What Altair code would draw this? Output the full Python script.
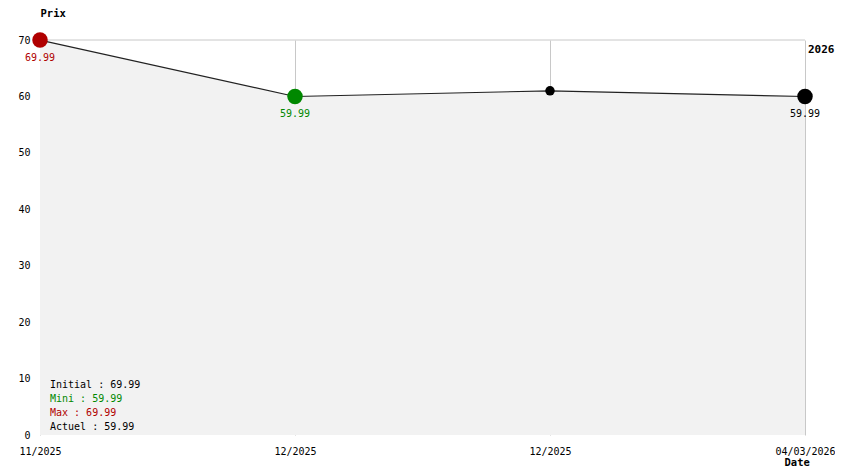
import altair as alt
import pandas as pd

# ---- data ----
dates = ["11/2025", "12/2025", "12/2025", "04/03/2026"]
prices = [69.99, 59.99, 60.99, 59.99]
point_colors = ["#b00000", "#008800", "#000000", "#000000"]
point_sizes = [240, 240, 90, 240]
value_labels = ["69.99", "59.99", "", "59.99"]

legend_lines = ["Initial : 69.99", "Mini : 59.99", "Max : 69.99", "Actuel : 59.99"]
legend_colors = ["#000000", "#008800", "#b00000", "#000000"]
year_label = "2026"

FONT = "DejaVu Sans Mono"

df = pd.DataFrame({
    "i": list(range(len(dates))),
    "date": dates,
    "price": prices,
    "pcolor": point_colors,
    "psize": point_sizes,
    "vlabel": value_labels,
})
leg = pd.DataFrame({
    "row": list(range(len(legend_lines))),
    "txt": legend_lines,
    "col": legend_colors,
})
yr = pd.DataFrame({"i": [len(dates) - 1], "price": [70], "txt": [year_label]})

label_expr = "[" + ",".join("'%s'" % d for d in dates) + "][datum.value]"

xs = alt.Scale(domain=[0, len(dates) - 1], nice=False, zero=False, padding=0)
ys = alt.Scale(domain=[0, 70], nice=False, zero=True)

x_enc = alt.X("i:Q", scale=xs, axis=alt.Axis(
    values=list(range(len(dates))), labelExpr=label_expr, grid=True,
    gridColor="#c8c8c8", gridWidth=1, domain=False, ticks=False,
    labelFont=FONT, labelFontSize=10, labelColor="#000", labelPadding=11,
    labelBound=False, labelFlush=False, labelOverlap=False,
    title="Date", titleFont=FONT, titleFontSize=10.5, titleFontWeight="bold",
    titleAlign="left", titleBaseline="middle", titleX=744, titleY=27,
    titleColor="#000"))
y_enc = alt.Y("price:Q", scale=ys, axis=alt.Axis(
    values=list(range(0, 71, 10)), grid=False, domain=False, ticks=False,
    labelFont=FONT, labelFontSize=10, labelColor="#000", labelPadding=10,
    title="Prix", titleFont=FONT, titleFontSize=10.5, titleFontWeight="bold",
    titleAngle=0, titleAlign="left", titleBaseline="middle", titleX=0,
    titleY=-27, titleColor="#000"))

base = alt.Chart(df)

top_rule = alt.Chart(pd.DataFrame({"v": [70]})).mark_rule(
    color="#c8c8c8", strokeWidth=1).encode(y=alt.Y("v:Q", scale=ys))

area = base.mark_area(color="#f2f2f2", opacity=1).encode(x=x_enc, y=y_enc)
line = base.mark_line(color="#222222", strokeWidth=1.2).encode(x="i:Q", y="price:Q")
pts = base.mark_circle(opacity=1).encode(
    x="i:Q", y="price:Q",
    color=alt.Color("pcolor:N", scale=None),
    size=alt.Size("psize:Q", scale=None))
vl = base.mark_text(font=FONT, fontSize=10, dy=18, baseline="middle").encode(
    x="i:Q", y="price:Q", text="vlabel:N",
    color=alt.Color("pcolor:N", scale=None))
yrtxt = alt.Chart(yr).mark_text(font=FONT, fontSize=11, fontWeight="bold",
                                align="left", baseline="middle", dx=3, dy=10,
                                color="#000").encode(
    x=alt.X("i:Q", scale=xs), y=alt.Y("price:Q", scale=ys), text="txt:N")
legtxt = alt.Chart(leg).transform_calculate(
    py="345 + datum.row * 14").mark_text(
    font=FONT, fontSize=10, align="left", baseline="middle").encode(
    x=alt.value(10), y=alt.Y("py:Q", scale=None),
    text="txt:N", color=alt.Color("col:N", scale=None))

chart = alt.layer(top_rule, area, line, pts, vl, yrtxt, legtxt).properties(
    width=765, height=395,
    autosize=alt.AutoSizeParams(type="none"),
    padding={"left": 32, "top": 32, "right": 30, "bottom": 31},
    background="white",
).configure_view(stroke=None)

chart.save("out.html", embed_options={"renderer": "svg", "actions": False})
